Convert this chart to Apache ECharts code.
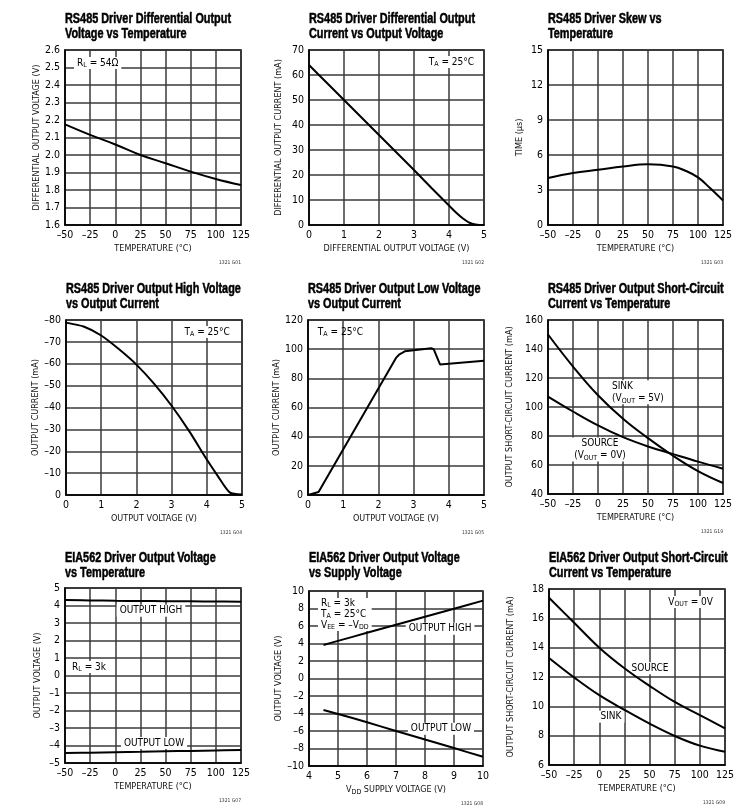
<!DOCTYPE html>
<html><head><meta charset="utf-8">
<script src="https://cdn.jsdelivr.net/npm/echarts@6/dist/echarts.min.js"></script>
<style>html,body{margin:0;padding:0;background:#fff}#c{width:751px;height:806px}</style>
</head><body><div id="c"></div>
<script>
const FONT = "'DejaVu Sans Condensed','Liberation Sans Narrow',sans-serif";
const TFONT = "'Liberation Sans',Arial,sans-serif";

// ---------- data ----------
const tempX = [-50, -25, 0, 25, 50, 75, 100, 125];

const p1Volt = [2.175, 2.115, 2.06, 2.0, 1.953, 1.905, 1.863, 1.828];

const p2X = [0, 0.5, 1, 1.5, 2, 2.5, 3, 3.5, 4, 4.2, 4.4, 4.6, 4.8, 5];
const p2Cur = [64, 57, 50, 43, 36, 29, 22, 14.8, 7.8, 5.0, 2.6, 0.8, 0.15, 0.05];

const p3X = [-50, -25, 0, 25, 50, 75, 87.5, 100, 112, 125];
const p3Skew = [4.02, 4.45, 4.73, 5.02, 5.2, 5.02, 4.65, 4.08, 3.17, 2.1];

const p4X = [0, 0.5, 1, 1.5, 2, 2.5, 3, 3.5, 4, 4.3, 4.65, 5];
const p4Cur = [-78.8, -77, -72.9, -66.7, -59.6, -50.9, -40.8, -29.2, -16.2, -9, -1.2, -0.2];

const p5X = [0, 0.3, 2.5, 2.6, 2.75, 3, 3.5, 3.57, 3.75, 4, 5];
const p5Cur = [0, 2, 94, 96.5, 98.5, 99.3, 100.6, 100, 89.5, 90, 92];

const p6Sink = [150, 127.9, 108.1, 91.9, 78.5, 66.4, 55.8, 47.6];
const p6Source = [107.2, 96.9, 87.3, 79.2, 72.8, 67.5, 62.3, 57.4];

const p7High = [4.31, 4.29, 4.27, 4.26, 4.25, 4.24, 4.23, 4.22];
const p7Low = [-4.43, -4.41, -4.38, -4.36, -4.33, -4.31, -4.28, -4.26];

const p8X = [4.5, 5, 6, 7, 8, 9, 10];
const p8High = [3.83, 4.3, 5.22, 6.14, 7.06, 7.98, 8.9];
const p8Low = [-3.6, -4.05, -5.0, -6.0, -6.97, -7.95, -8.95];

const p9Source = [17.4, 15.7, 14.0, 12.6, 11.4, 10.3, 9.4, 8.5];
const p9Sink = [13.3, 11.97, 10.76, 9.76, 8.82, 7.98, 7.32, 6.9];

const titles = [
  'RS485 Driver Differential Output\nVoltage vs Temperature',
  'RS485 Driver Differential Output\nCurrent vs Output Voltage',
  'RS485 Driver Skew vs\nTemperature',
  'RS485 Driver Output High Voltage\nvs Output Current',
  'RS485 Driver Output Low Voltage\nvs Output Current',
  'RS485 Driver Output Short-Circuit\nCurrent vs Temperature',
  'EIA562 Driver Output Voltage\nvs Temperature',
  'EIA562 Driver Output Voltage\nvs Supply Voltage',
  'EIA562 Driver Output Short-Circuit\nCurrent vs Temperature'
];
const codes = ['1321 G01','1321 G02','1321 G03','1321 G04','1321 G05','1321 G19','1321 G07','1321 G08','1321 G09'];

// ---------- layout ----------
const grids = [
  [65, 50, 176, 175], [309, 50, 175, 175], [548, 50, 175, 175],
  [66, 320, 176, 175], [308, 320, 176, 175], [548, 320, 175, 174],
  [65, 588, 176, 175], [309, 591, 174, 175], [549, 589, 176, 176]
];
const titleTops = [12, 12, 12, 282, 282, 282, 551, 551, 551];

const axes = [
  {x:{min:-50,max:125,interval:25,name:'TEMPERATURE (°C)'}, y:{min:1.6,max:2.6,interval:0.1,dec:1,name:'DIFFERENTIAL OUTPUT VOLTAGE (V)',gap:23}},
  {x:{min:0,max:5,interval:1,name:'DIFFERENTIAL OUTPUT VOLTAGE (V)'}, y:{min:0,max:70,interval:10,name:'DIFFERENTIAL OUTPUT CURRENT (mA)',gap:26}},
  {x:{min:-50,max:125,interval:25,name:'TEMPERATURE (°C)'}, y:{min:0,max:15,interval:3,name:'TIME (μs)',gap:24}},
  {x:{min:0,max:5,interval:1,name:'OUTPUT VOLTAGE (V)'}, y:{min:-80,max:0,interval:10,inverse:true,name:'OUTPUT CURRENT (mA)',gap:24}},
  {x:{min:0,max:5,interval:1,name:'OUTPUT VOLTAGE (V)'}, y:{min:0,max:120,interval:20,name:'OUTPUT CURRENT (mA)',gap:25}},
  {x:{min:-50,max:125,interval:25,name:'TEMPERATURE (°C)'}, y:{min:40,max:160,interval:20,name:'OUTPUT SHORT-CIRCUIT CURRENT (mA)',gap:34}},
  {x:{min:-50,max:125,interval:25,name:'TEMPERATURE (°C)'}, y:{min:-5,max:5,interval:1,name:'OUTPUT VOLTAGE (V)',gap:23}},
  {x:{min:4,max:10,interval:1,name:'V{sub|DD} SUPPLY VOLTAGE (V)'}, y:{min:-10,max:10,interval:2,name:'OUTPUT VOLTAGE (V)',gap:26}},
  {x:{min:-50,max:125,interval:25,name:'TEMPERATURE (°C)'}, y:{min:6,max:18,interval:2,name:'OUTPUT SHORT-CIRCUIT CURRENT (mA)',gap:34}}
];

const zip = (xs, ys) => xs.map((v, i) => [v, ys[i]]);
const seriesDefs = [
  {g:0, data: zip(tempX, p1Volt), smooth: 0.4},
  {g:1, data: zip(p2X, p2Cur), smooth: 0.3},
  {g:2, data: zip(p3X, p3Skew), smooth: 0.4},
  {g:3, data: zip(p4X, p4Cur), smooth: 0.25},
  {g:4, data: zip(p5X, p5Cur), smooth: false},
  {g:5, data: zip(tempX, p6Sink), smooth: 0.4},
  {g:5, data: zip(tempX, p6Source), smooth: 0.4},
  {g:6, data: zip(tempX, p7High), smooth: 0.4},
  {g:6, data: zip(tempX, p7Low), smooth: 0.4},
  {g:7, data: zip(p8X, p8High), smooth: 0.3},
  {g:7, data: zip(p8X, p8Low), smooth: 0.3},
  {g:8, data: zip(tempX, p9Source), smooth: 0.4},
  {g:8, data: zip(tempX, p9Sink), smooth: 0.4}
];

// annotation anchors in data coordinates
const subRich = {sub: {fontSize: 7, lineHeight: 7, verticalAlign: 'bottom', fontFamily: FONT, fill: '#000', color: '#000'}};
const notes = [
  {g:0, at:[-41, 2.526], text:'R{sub|L} = 54Ω', align:'left', bg:true},
  {g:1, at:[4.8, 65.2], text:'T{sub|A} = 25°C', align:'right', bg:true},
  {g:3, at:[4.74, -74.5], text:'T{sub|A} = 25°C', align:'right', bg:true},
  {g:4, at:[0.28, 111.8], text:'T{sub|A} = 25°C', align:'left', bg:false},
  {g:5, at:[11, 110.1], text:'SINK\n(V{sub|OUT} = 5V)', align:'left', bg:true},
  {g:5, at:[2, 70.7], text:'SOURCE\n(V{sub|OUT} = 0V)', align:'center', bg:true},
  {g:6, at:[35.5, 3.70], text:'OUTPUT HIGH', align:'center', bg:true},
  {g:6, at:[38.5, -3.86], text:'OUTPUT LOW', align:'center', bg:true},
  {g:6, at:[-46, 0.49], text:'R{sub|L} = 3k', align:'left', bg:true},
  {g:7, at:[4.31, 9.2], text:'R{sub|L} = 3k\nT{sub|A} = 25°C\nV{sub|EE} = –V{sub|DD}', align:'left', bg:true, v:'top', lh:11},
  {g:7, at:[8.52, 5.69], text:'OUTPUT HIGH', align:'center', bg:true},
  {g:7, at:[8.55, -5.74], text:'OUTPUT LOW', align:'center', bg:true},
  {g:8, at:[116, 17.11], text:'V{sub|OUT} = 0V', align:'right', bg:true},
  {g:8, at:[50.4, 12.6], text:'SOURCE', align:'center', bg:true},
  {g:8, at:[11.6, 9.3], text:'SINK', align:'center', bg:true}
];

// ---------- build option ----------
const fmt = dec => v => (dec ? v.toFixed(dec) : String(Math.round(v))).replace('-', '–');
const GRIDLINE = {color: '#3a3a3a', width: 1.5};

const option = {
  backgroundColor: '#fff',
  animation: false,
  grid: grids.map(g => ({left: g[0], top: g[1], width: g[2], height: g[3], show: true, borderColor: '#000', borderWidth: 1.5, backgroundColor: 'transparent', containLabel: false})),
  xAxis: axes.map((a, i) => ({
    type: 'value', gridIndex: i, min: a.x.min, max: a.x.max, interval: a.x.interval,
    name: a.x.name, nameLocation: 'middle', nameGap: 17,
    nameTextStyle: {fontFamily: FONT, fontSize: 9, color: '#111', lineHeight: 13, rich: subRich},
    axisLine: {show: true, onZero: false, lineStyle: {color: '#000', width: 1.5}},
    axisTick: {show: false},
    axisLabel: {fontFamily: FONT, fontSize: 10.5, color: '#000', margin: 5, formatter: fmt(0), showMinLabel: true, showMaxLabel: true},
    splitLine: {show: true, lineStyle: GRIDLINE}
  })),
  yAxis: axes.map((a, i) => ({
    type: 'value', gridIndex: i, min: a.y.min, max: a.y.max, interval: a.y.interval, inverse: !!a.y.inverse,
    name: a.y.name, nameLocation: 'middle', nameGap: a.y.gap, nameRotate: 90,
    nameTextStyle: {fontFamily: FONT, fontSize: 9, color: '#111'},
    axisLine: {show: true, onZero: false, lineStyle: {color: '#000', width: 1.5}},
    axisTick: {show: false},
    axisLabel: {fontFamily: FONT, fontSize: 10.5, color: '#000', margin: 5, formatter: fmt(a.y.dec || 0), showMinLabel: true, showMaxLabel: true},
    splitLine: {show: true, lineStyle: GRIDLINE}
  })),
  series: seriesDefs.map(s => ({
    type: 'line', xAxisIndex: s.g, yAxisIndex: s.g, data: s.data, smooth: s.smooth,
    showSymbol: false, symbol: 'none', silent: true,
    lineStyle: {color: '#000', width: 2}, z: 5
  }))
};

const chart = echarts.init(document.getElementById('c'), null, {renderer: 'canvas'});
chart.setOption(option);

// ---------- titles: bold text horizontally condensed ----------
const mctx = document.createElement('canvas').getContext('2d');
mctx.font = 'bold 14px ' + TFONT;
const titleScale = 166 / mctx.measureText('RS485 Driver Differential Output').width;

const graphics = [];
titles.forEach((t, i) => {
  graphics.push({
    type: 'text', x: grids[i][0], y: titleTops[i], scaleX: titleScale, z: 10,
    style: {text: t, fontFamily: TFONT, fontWeight: 'bold', fontSize: 14, lineHeight: 15, fill: '#000',
            stroke: '#000', lineWidth: 0.5, align: 'left', verticalAlign: 'top'}
  });
});

// ---------- annotations (anchored to data coordinates), under the curves ----------
notes.forEach(n => {
  const p = chart.convertToPixel({gridIndex: n.g}, n.at);
  graphics.push({
    type: 'text', x: p[0], y: p[1], z: 1,
    style: {
      text: n.text, rich: subRich, fontFamily: FONT, fontSize: 10, lineHeight: n.lh || 12,
      fill: '#000', align: n.align, verticalAlign: n.v || 'middle',
      backgroundColor: n.bg ? '#fff' : null, padding: n.bg ? [0, 3, 0, 3] : 0
    }
  });
});
grids.forEach((g, i) => {
  graphics.push({
    type: 'text', x: g[0] + g[2], y: g[1] + g[3] + 38, z: 10,
    style: {text: codes[i], fontFamily: FONT, fontSize: 5, fill: '#333', align: 'right', verticalAlign: 'middle'}
  });
});
chart.setOption({graphic: graphics});
</script>
</body></html>
